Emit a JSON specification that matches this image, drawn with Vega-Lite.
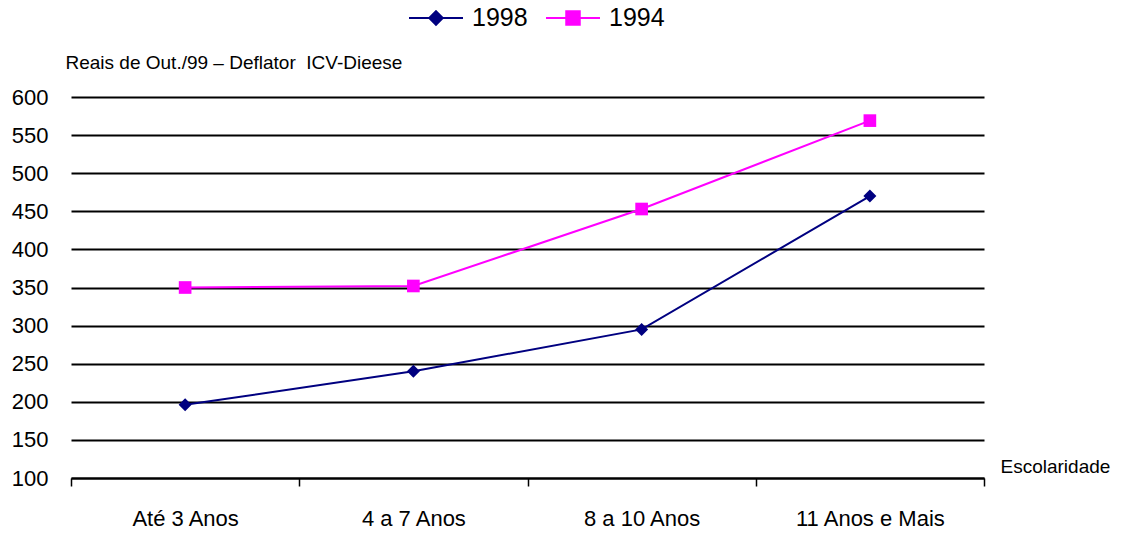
{
  "$schema": "https://vega.github.io/schema/vega-lite/v6.json",
  "width": 913,
  "height": 381,
  "autosize": "none",
  "padding": {"left": 71, "top": 97, "right": 142, "bottom": 55},
  "background": "white",
  "config": {
    "view": {"stroke": null},
    "font": "Liberation Sans"
  },
  "data": {
    "values": [
      {"escolaridade": "Até 3 Anos", "ano": "1998", "valor": 196},
      {"escolaridade": "4 a 7 Anos", "ano": "1998", "valor": 240},
      {"escolaridade": "8 a 10 Anos", "ano": "1998", "valor": 295},
      {"escolaridade": "11 Anos e Mais", "ano": "1998", "valor": 470},
      {"escolaridade": "Até 3 Anos", "ano": "1994", "valor": 350},
      {"escolaridade": "4 a 7 Anos", "ano": "1994", "valor": 352},
      {"escolaridade": "8 a 10 Anos", "ano": "1994", "valor": 453},
      {"escolaridade": "11 Anos e Mais", "ano": "1994", "valor": 569}
    ]
  },
  "encoding": {
    "x": {
      "field": "escolaridade",
      "type": "nominal",
      "sort": ["Até 3 Anos", "4 a 7 Anos", "8 a 10 Anos", "11 Anos e Mais"],
      "bandPosition": 0.5,
      "scale": {"type": "band", "paddingInner": 0, "paddingOuter": 0},
      "axis": {
        "title": "Escolaridade",
        "titleAngle": 0,
        "titleX": 929,
        "titleY": -2,
        "titleAlign": "left",
        "titleBaseline": "bottom",
        "titleFontSize": 19,
        "titleFontWeight": "normal",
        "titleColor": "black",
        "labelAngle": 0,
        "labelFontSize": 22,
        "labelColor": "black",
        "labelPadding": 22,
        "domainColor": "black",
        "domainWidth": 2,
        "tickColor": "black",
        "tickWidth": 1.5,
        "tickSize": 8,
        "tickBand": "extent",
        "grid": false
      }
    },
    "y": {
      "field": "valor",
      "type": "quantitative",
      "scale": {"domain": [100, 600], "nice": false, "zero": false},
      "axis": {
        "values": [100, 150, 200, 250, 300, 350, 400, 450, 500, 550, 600],
        "title": "Reais de Out./99 – Deflator \u00a0ICV-Dieese",
        "titleAngle": 0,
        "titleX": -6,
        "titleY": -29,
        "titleAlign": "left",
        "titleBaseline": "alphabetic",
        "titleFontSize": 19,
        "titleFontWeight": "normal",
        "titleColor": "black",
        "labelFontSize": 22,
        "labelColor": "black",
        "labelPadding": 23,
        "domain": false,
        "ticks": false,
        "grid": true,
        "gridColor": "black",
        "gridWidth": 2,
        "gridOpacity": 1
      }
    },
    "color": {
      "field": "ano",
      "type": "nominal",
      "scale": {"domain": ["1998", "1994"], "range": ["#000080", "#FF00FF"]},
      "legend": {
        "title": null,
        "orient": "none",
        "direction": "horizontal",
        "legendX": 337,
        "legendY": -107,
        "symbolSize": 2916,
        "symbolStrokeWidth": 2,
        "symbolOpacity": 1,
        "labelFontSize": 25,
        "labelColor": "black",
        "labelOffset": 8,
        "columnPadding": 14,
        "encode": {
          "symbols": {
            "update": {
              "shape": {"signal": "datum.value == '1998' ? 'M-1,0H1M0,-0.25L0.25,0L0,0.25L-0.25,0Z' : 'M-1,0H1M-0.25,-0.25H0.25V0.25H-0.25Z'"},
              "size": {"value": 2916},
              "strokeWidth": {"value": 2},
              "opacity": {"value": 1},
              "fill": {"signal": "datum.value == '1998' ? '#000080' : '#FF00FF'"},
              "stroke": {"signal": "datum.value == '1998' ? '#000080' : '#FF00FF'"}
            }
          }
        }
      }
    }
  },
  "layer": [
    {
      "mark": {"type": "line", "strokeWidth": 2}
    },
    {
      "transform": [{"filter": "datum.ano == '1998'"}],
      "mark": {"type": "point", "filled": true, "opacity": 1, "shape": "diamond", "size": 170}
    },
    {
      "transform": [{"filter": "datum.ano == '1994'"}],
      "mark": {"type": "point", "filled": true, "opacity": 1, "shape": "square", "size": 160}
    }
  ]
}
